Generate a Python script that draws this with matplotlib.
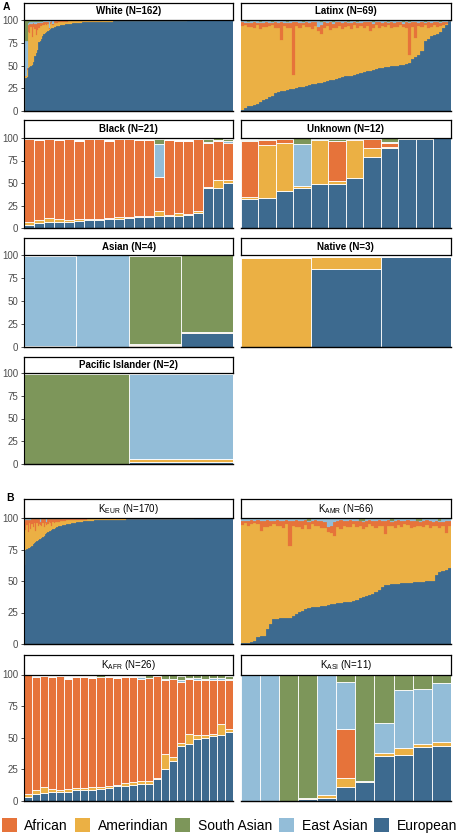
import numpy as np
import matplotlib.pyplot as plt
from matplotlib.patches import Patch

plt.rcParams['font.family'] = ['Liberation Sans', 'DejaVu Sans']

legend_order = ["African", "Amerindian", "South Asian", "East Asian", "European"]
stack_order = ["European", "Amerindian", "African", "East Asian", "South Asian"]
colors = {"African": "#E6733A", "Amerindian": "#EBB044", "South Asian": "#7D965A",
          "East Asian": "#93BDD8", "European": "#3D6A8F"}

# ---------------- panel A: self-reported groups ----------------
white_eur = [
    0, 36, 37, 47, 48, 50, 51, 54, 60, 64,
    67, 76, 77, 79, 82, 85, 86, 87, 88, 89,
    90, 91, 91.5, 92, 92.5, 93, 93.3, 93.6, 94, 94.3,
    94.6, 95, 95.2, 95.5, 95.7, 95.9, 96.1, 96.3, 96.5, 96.7,
    96.8, 96.9, 97, 97.1, 97.2, 97.3, 97.4, 97.5, 97.5, 97.6,
    97.6, 97.7, 97.7, 97.8, 97.8, 97.9, 97.9, 98, 98, 98,
    98.1, 98.1, 98.1, 98.2, 98.2, 98.2, 98.3, 98.3, 98.3, 98.4,
    98.4, 98.4, 98.4, 98.5, 98.5, 98.5, 98.5, 98.6, 98.6, 98.6,
    98.6, 98.7, 98.7, 98.7, 98.7, 98.8, 98.8, 98.8, 98.8, 98.9,
    98.9, 98.9, 98.9, 99, 99, 99, 99, 99, 99, 99.1,
    99.1, 99.1, 99.1, 99.1, 99.1, 99.2, 99.2, 99.2, 99.2, 99.2,
    99.2, 99.3, 99.3, 99.3, 99.3, 99.3, 99.3, 99.3, 99.4, 99.4,
    99.4, 99.4, 99.4, 99.4, 99.4, 99.4, 99.5, 99.5, 99.5, 99.5,
    99.5, 99.5, 99.5, 99.5, 99.5, 99.6, 99.6, 99.6, 99.6, 99.6,
    99.6, 99.6, 99.6, 99.7, 99.7, 99.7, 99.7, 99.7, 99.7, 99.7,
    99.8, 99.8, 99.8, 99.8, 99.8, 99.8, 99.8, 99.9, 99.9, 99.9,
    99.9, 99.9,
]
white_amr = [
    95, 2, 8, 40, 38, 42, 30, 38, 30, 20,
    22, 15, 16, 14, 12, 9, 10, 8, 8, 1,
    6, 6, 3, 5, 4.5, 4, 4.2, 4.0, 3.8, 3.6,
    3.4, 3.1, 3.0, 2.8, 2.7, 2.6, 2.4, 2.3, 2.2, 2.0,
    2.0, 1.9, 1.8, 1.8, 1.7, 1.6, 1.6, 1.5, 1.5, 1.4,
    1.4, 1.4, 1.4, 1.3, 1.3, 1.2, 1.2, 1.2, 1.2, 1.2,
    1.4, 1.4, 1.4, 1.3, 1.3, 1.3, 1.2, 1.2, 1.2, 1.1,
    1.1, 1.1, 1.1, 1.0, 1.0, 1.0, 1.0, 0.9, 0.9, 0.9,
    1.0, 0.9, 0.9, 0.9, 0.9, 0.8, 0.8, 0.8, 0.8, 0.7,
    0.7, 0.7, 0.7, 0.6, 0.6, 0.6, 0.6, 0.6, 0.6, 0.5,
    0.5, 0.5, 0.5, 0.5, 0.5, 0.4, 0.4, 0.4, 0.4, 0.4,
    0.4, 0.3, 0.3, 0.3, 0.3, 0.3, 0.3, 0.3, 0.2, 0.2,
    0.3, 0.3, 0.3, 0.3, 0.3, 0.3, 0.2, 0.2, 0.2, 0.2,
    0.2, 0.2, 0.2, 0.2, 0.2, 0.1, 0.1, 0.1, 0.1, 0.1,
    0.1, 0.1, 0.1, 0.1, 0.1, 0.1, 0.1, 0.1, 0.1, 0.1,
    0.1, 0.1, 0.1, 0.1, 0.1, 0.1, 0.1, 0.1, 0.1, 0.1,
    0.1, 0.1,
]
white_afr = [
    3, 1, 2, 8, 10, 4, 15, 5, 6, 12,
    8, 6, 4, 4, 3, 4, 2, 3, 2, 1,
    2, 2, 1, 2, 2, 2, 2.0, 1.9, 1.7, 1.6,
    1.5, 1.4, 1.3, 1.2, 1.1, 1.0, 1.0, 0.9, 0.8, 0.8,
    0.7, 0.7, 0.7, 0.6, 0.6, 0.6, 0.5, 0.5, 0.5, 0.5,
    0.5, 0.4, 0.4, 0.4, 0.4, 0.4, 0.4, 0.3, 0.3, 0.3,
    0.3, 0.3, 0.3, 0.3, 0.3, 0.3, 0.3, 0.3, 0.3, 0.3,
    0.3, 0.3, 0.3, 0.3, 0.3, 0.3, 0.3, 0.3, 0.3, 0.3,
    0.2, 0.2, 0.2, 0.2, 0.2, 0.2, 0.2, 0.2, 0.2, 0.2,
    0.2, 0.2, 0.2, 0.2, 0.2, 0.2, 0.2, 0.2, 0.2, 0.2,
    0.2, 0.2, 0.2, 0.2, 0.2, 0.2, 0.2, 0.2, 0.2, 0.2,
    0.2, 0.2, 0.2, 0.2, 0.2, 0.2, 0.2, 0.2, 0.2, 0.2,
    0.1, 0.1, 0.1, 0.1, 0.1, 0.1, 0.1, 0.1, 0.1, 0.1,
    0.1, 0.1, 0.1, 0.1, 0.1, 0.1, 0.1, 0.1, 0.1, 0.1,
    0.1, 0.1, 0.1, 0.1, 0.1, 0.1, 0.1, 0.1, 0.1, 0.1,
    0.1, 0.1, 0.1, 0.1, 0.1, 0.1, 0.1, 0.1, 0.1, 0.1,
    0.1, 0.1,
]
white_eas = [
    0, 38, 30, 2, 2, 2, 2, 1, 2, 2,
    1, 1, 1, 1, 1, 1, 1, 1, 1, 8,
    1, 0.5, 4, 0.5, 0.5, 0.5, 0.3, 0.3, 0.3, 0.3,
    0.3, 0.3, 0.3, 0.3, 0.3, 0.3, 0.3, 0.3, 0.3, 0.3,
    0.3, 0.3, 0.3, 0.3, 0.3, 0.3, 0.3, 0.3, 0.3, 0.3,
    0.3, 0.3, 0.3, 0.3, 0.3, 0.3, 0.3, 0.3, 0.3, 0.3,
    0.1, 0.1, 0.1, 0.1, 0.1, 0.1, 0.1, 0.1, 0.1, 0.1,
    0.1, 0.1, 0.1, 0.1, 0.1, 0.1, 0.1, 0.1, 0.1, 0.1,
    0.1, 0.1, 0.1, 0.1, 0.1, 0.1, 0.1, 0.1, 0.1, 0.1,
    0.1, 0.1, 0.1, 0.1, 0.1, 0.1, 0.1, 0.1, 0.1, 0.1,
    0.1, 0.1, 0.1, 0.1, 0.1, 0.1, 0.1, 0.1, 0.1, 0.1,
    0.1, 0.1, 0.1, 0.1, 0.1, 0.1, 0.1, 0.1, 0.1, 0.1,
    0.1, 0.1, 0.1, 0.1, 0.1, 0.1, 0.1, 0.1, 0.1, 0.1,
    0.1, 0.1, 0.1, 0.1, 0.1, 0.1, 0.1, 0.1, 0.1, 0.1,
    0.1, 0.1, 0.1, 0.1, 0.1, 0.1, 0.1, 0.1, 0.1, 0.1,
    0.1, 0.1, 0.1, 0.1, 0.1, 0.1, 0.1, 0.1, 0.1, 0.1,
    0.1, 0.1,
]
white_sas = [
    1, 22, 22, 2, 1, 1, 1, 1, 1, 1,
    1, 1, 1, 1, 1, 0.5, 0.5, 0.5, 0.5, 0.5,
    0.5, 0.3, 0.3, 0.3, 0.3, 0.3, 0.2, 0.2, 0.2, 0.2,
    0.2, 0.2, 0.2, 0.2, 0.2, 0.2, 0.2, 0.2, 0.2, 0.2,
    0.2, 0.2, 0.2, 0.2, 0.2, 0.2, 0.2, 0.2, 0.2, 0.2,
    0.2, 0.2, 0.2, 0.2, 0.2, 0.2, 0.2, 0.2, 0.2, 0.2,
    0.1, 0.1, 0.1, 0.1, 0.1, 0.1, 0.1, 0.1, 0.1, 0.1,
    0.1, 0.1, 0.1, 0.1, 0.1, 0.1, 0.1, 0.1, 0.1, 0.1,
    0.1, 0.1, 0.1, 0.1, 0.1, 0.1, 0.1, 0.1, 0.1, 0.1,
    0.1, 0.1, 0.1, 0.1, 0.1, 0.1, 0.1, 0.1, 0.1, 0.1,
    0.1, 0.1, 0.1, 0.1, 0.1, 0.1, 0.1, 0.1, 0.1, 0.1,
    0.1, 0.1, 0.1, 0.1, 0.1, 0.1, 0.1, 0.1, 0.1, 0.1,
    0.1, 0.1, 0.1, 0.1, 0.1, 0.1, 0.1, 0.1, 0.1, 0.1,
    0.1, 0.1, 0.1, 0.1, 0.1, 0.1, 0.1, 0.1, 0.1, 0.1,
    0.1, 0.1, 0.1, 0.1, 0.1, 0.1, 0.1, 0.1, 0.1, 0.1,
    0.1, 0.1, 0.1, 0.1, 0.1, 0.1, 0.1, 0.1, 0.1, 0.1,
    0.1, 0.1,
]

latinx_eur = [
    1, 3, 5, 6, 7, 8, 10, 12, 13, 15,
    17, 20, 21, 22, 22.5, 23, 24, 24.5, 25.5, 26,
    26.5, 27.5, 28.5, 29.5, 30, 30.5, 31, 32, 33, 34,
    34.5, 35, 36, 37, 38, 38.5, 39, 40, 41, 42,
    43, 43.5, 44, 45, 46, 47, 47.5, 48, 48.5, 49,
    49.5, 50, 50.5, 51, 51.5, 53, 57, 59, 62, 66,
    77, 79, 82, 84, 85, 87, 91, 94, 99,
]
latinx_amr = [
    92.5, 91, 87, 86.5, 84.5, 86, 80, 80.5, 79.5, 78,
    77, 71.5, 70.5, 55.5, 70.5, 68, 67.5, 15, 68, 65,
    67.5, 65, 64, 61, 63.5, 57, 54, 59.5, 60, 55.5,
    56.5, 56.5, 57.5, 53, 54.5, 54.5, 51.5, 54.5, 50.5, 51,
    48.5, 50, 43.5, 46, 48.5, 44.5, 45.5, 44.5, 45.5, 42.5,
    43, 42.5, 44, 41, 40, 8, 35.5, 21.5, 31, 26.5,
    17, 12.5, 10.5, 10.5, 7.5, 6, 3.5, 2, 0,
]
latinx_afr = [
    4, 3, 5, 4, 6, 3, 7, 4, 5, 4,
    3, 6, 5, 20, 4, 6, 5, 58, 4, 6,
    3, 5, 4, 7, 4, 5, 9, 6, 4, 8,
    5, 6, 4, 7, 5, 4, 6, 3, 5, 4,
    6, 4, 10, 5, 3, 6, 4, 5, 3, 6,
    4, 5, 3, 4, 6, 36, 5, 17, 4, 5,
    3, 6, 4, 3, 5, 4, 3, 2, 0.5,
]
latinx_eas = [
    1, 1.5, 1, 2, 1, 1.5, 1, 2, 1, 1.5,
    1, 1, 2, 1, 1.5, 1, 2, 1, 1, 1.5,
    1, 1, 2, 1, 1, 6, 4, 1, 1.5, 1,
    2, 1, 1, 1.5, 1, 1, 2, 1, 1, 1.5,
    1, 1, 1, 2, 1, 1, 1.5, 1, 1, 1,
    2, 1, 1, 1.5, 1, 1, 1, 1, 1.5, 1,
    1, 1, 2, 1, 1, 1, 1, 0.5, 0,
]
latinx_sas = [
    0.5, 0.5, 1, 0.5, 0.5, 0.5, 1, 0.5, 0.5, 0.5,
    1, 0.5, 0.5, 0.5, 0.5, 1, 0.5, 0.5, 0.5, 0.5,
    1, 0.5, 0.5, 0.5, 0.5, 0.5, 1, 0.5, 0.5, 0.5,
    1, 0.5, 0.5, 0.5, 0.5, 1, 0.5, 0.5, 1.5, 0.5,
    0.5, 0.5, 0.5, 1, 0.5, 0.5, 0.5, 0.5, 1, 0.5,
    0.5, 0.5, 0.5, 1.5, 0.5, 1, 0.5, 0.5, 0.5, 0.5,
    1, 0.5, 0.5, 0.5, 0.5, 1, 0.5, 0.5, 0.5,
]

black_eur = [3, 5.5, 6.3, 7, 7, 7.4, 9, 9, 10, 10, 11, 12, 12, 13, 13, 13.7, 14, 17, 44, 45, 50]
black_amr = [4, 3, 4.7, 2.5, 2, 2.6, 1.5, 1.5, 1.5, 2, 1.5, 1.5, 1.5, 6, 2, 2.8, 2, 1.5, 2, 8, 3]
black_afr = [92, 89, 88, 88.5, 90, 87, 88, 88, 85.5, 86.5, 86, 84.5, 84, 38, 83, 80.5, 81, 80, 49, 44, 42]
black_eas = [0, 0, 0, 0, 0, 0, 0, 0, 0, 0, 0, 0, 0, 36, 0, 0, 0, 0, 1, 0.5, 1.5]
black_sas = [0, 0, 0, 0, 0, 0, 0, 0, 0, 0, 0, 0, 0, 5.5, 0, 0, 0, 0, 3, 2, 2.5]

unknown_eur = [32.6, 33, 41, 44, 48.7, 49.4, 56, 78.6, 89, 99, 99, 99.5]
unknown_amr = [2, 59.5, 53, 2.5, 49, 2.6, 42, 10.5, 1, 0, 0, 0]
unknown_afr = [62, 5.5, 5, 0.5, 0.5, 44.5, 0.5, 10, 4, 0, 0, 0]
unknown_eas = [0.5, 0, 0, 46.5, 0, 0, 0, 0, 2, 0, 0, 0]
unknown_sas = [1, 0.5, 0.5, 6, 1, 2.5, 1, 0.5, 3.5, 0.5, 0.5, 0.3]

asian_eur = [1, 0.5, 1, 15]
asian_amr = [0, 0, 1, 0.5]
asian_afr = [0, 0, 1, 0.5]
asian_eas = [98, 99, 0.5, 0.5]
asian_sas = [0, 0, 95.5, 83]

native_eur = [0, 84.7, 98]
native_amr = [96.5, 13, 0]
native_afr = [0, 0, 0]
native_eas = [0, 0, 0]
native_sas = [0, 0, 0]

pacific_eur = [0, 2]
pacific_amr = [0, 3]
pacific_afr = [0, 0.5]
pacific_eas = [0, 93]
pacific_sas = [99, 0.5]

# ---------------- panel B: genetic ancestry clusters ----------------
keur_eur = [
    63, 74.5, 75.5, 76, 76.5, 77, 78, 79, 80, 81,
    82, 82.5, 83, 83.5, 84, 85, 86, 87, 88, 89,
    89.5, 90, 90.5, 91, 91.5, 92, 92.5, 93, 93.3, 93.6,
    94, 94.3, 94.5, 94.8, 95, 95.2, 95.4, 95.6, 95.8, 96,
    96.2, 96.4, 96.5, 96.6, 96.8, 97, 97.1, 97.2, 97.3, 97.4,
    97.5, 97.6, 97.7, 97.8, 97.9, 98, 98, 98.1, 98.1, 98.2,
    98.2, 98.3, 98.3, 98.3, 98.4, 98.4, 98.4, 98.5, 98.5, 98.5,
    98.5, 98.6, 98.6, 98.6, 98.6, 98.7, 98.7, 98.7, 98.7, 98.8,
    98.8, 98.8, 98.8, 98.9, 98.9, 98.9, 98.9, 99, 99, 99,
    99, 99, 99, 99.1, 99.1, 99.1, 99.1, 99.1, 99.1, 99.2,
    99.2, 99.2, 99.2, 99.2, 99.2, 99.3, 99.3, 99.3, 99.3, 99.3,
    99.3, 99.3, 99.4, 99.4, 99.4, 99.4, 99.4, 99.4, 99.4, 99.4,
    99.5, 99.5, 99.5, 99.5, 99.5, 99.5, 99.5, 99.5, 99.5, 99.6,
    99.6, 99.6, 99.6, 99.6, 99.6, 99.6, 99.6, 99.6, 99.7, 99.7,
    99.7, 99.7, 99.7, 99.7, 99.7, 99.7, 99.7, 99.7, 99.8, 99.8,
    99.8, 99.8, 99.8, 99.8, 99.8, 99.8, 99.8, 99.8, 99.9, 99.9,
    99.9, 99.9, 99.9, 99.9, 99.9, 99.9, 99.9, 99.9, 99.9, 99.9,
]
keur_amr = [
    29, 15.8, 19, 12.8, 19.3, 14.3, 17, 14, 16, 9,
    14, 11.5, 12, 11, 10, 11, 7, 9, 6.5, 6,
    7.5, 6, 3.5, 6, 4.5, 5, 4, 4, 3.8, 3.7,
    3.5, 3.6, 3.5, 3.2, 3.1, 3.0, 2.8, 2.7, 2.5, 2.4,
    2.3, 2.1, 2.0, 2.0, 1.8, 1.7, 1.6, 1.5, 1.5, 1.4,
    1.3, 1.4, 1.3, 1.2, 1.2, 1.1, 1.1, 1.0, 1.0, 1.0,
    1.0, 1.1, 1.1, 1.1, 1.0, 1.0, 1.0, 0.9, 0.9, 0.9,
    0.9, 0.9, 0.9, 0.9, 0.9, 0.8, 0.8, 0.8, 0.8, 0.7,
    0.7, 0.7, 0.7, 0.6, 0.6, 0.6, 0.6, 0.5, 0.5, 0.5,
    0.5, 0.6, 0.6, 0.5, 0.5, 0.5, 0.5, 0.5, 0.5, 0.4,
    0.4, 0.4, 0.4, 0.4, 0.4, 0.3, 0.3, 0.3, 0.3, 0.3,
    0.3, 0.3, 0.2, 0.2, 0.2, 0.2, 0.2, 0.2, 0.2, 0.2,
    0.2, 0.2, 0.2, 0.2, 0.2, 0.2, 0.2, 0.2, 0.2, 0.1,
    0.1, 0.1, 0.1, 0.1, 0.1, 0.1, 0.1, 0.1, 0.1, 0.1,
    0.1, 0.1, 0.1, 0.1, 0.1, 0.1, 0.1, 0.1, 0.1, 0.1,
    0.1, 0.1, 0.1, 0.1, 0.1, 0.1, 0.1, 0.1, 0.1, 0.1,
    0.1, 0.1, 0.1, 0.1, 0.1, 0.1, 0.1, 0.1, 0.1, 0.1,
]
keur_afr = [
    5, 8, 4, 10, 3, 7, 4, 6, 3, 9,
    3, 5, 4, 2, 5, 3, 6, 3, 2, 4,
    2, 3, 5, 2, 3, 2, 2.5, 2, 2, 1.8,
    1.6, 1.6, 1.5, 1.5, 1.4, 1.3, 1.3, 1.2, 1.2, 1.1,
    1.0, 1.0, 1.0, 0.9, 0.9, 0.8, 0.8, 0.8, 0.7, 0.7,
    0.7, 0.6, 0.6, 0.6, 0.5, 0.5, 0.5, 0.5, 0.5, 0.4,
    0.4, 0.4, 0.4, 0.4, 0.4, 0.4, 0.4, 0.4, 0.4, 0.4,
    0.3, 0.3, 0.3, 0.3, 0.3, 0.3, 0.3, 0.3, 0.3, 0.3,
    0.3, 0.3, 0.3, 0.3, 0.3, 0.3, 0.3, 0.3, 0.3, 0.3,
    0.2, 0.2, 0.2, 0.2, 0.2, 0.2, 0.2, 0.2, 0.2, 0.2,
    0.2, 0.2, 0.2, 0.2, 0.2, 0.2, 0.2, 0.2, 0.2, 0.2,
    0.2, 0.2, 0.2, 0.2, 0.2, 0.2, 0.2, 0.2, 0.2, 0.2,
    0.1, 0.1, 0.1, 0.1, 0.1, 0.1, 0.1, 0.1, 0.1, 0.1,
    0.1, 0.1, 0.1, 0.1, 0.1, 0.1, 0.1, 0.1, 0.1, 0.1,
    0.1, 0.1, 0.1, 0.1, 0.1, 0.1, 0.1, 0.1, 0.1, 0.1,
    0.1, 0.1, 0.1, 0.1, 0.1, 0.1, 0.1, 0.1, 0.1, 0.1,
    0.1, 0.1, 0.1, 0.1, 0.1, 0.1, 0.1, 0.1, 0.1, 0.1,
]
keur_eas = [
    2, 1, 0.8, 0.5, 0.5, 1, 0.5, 0.5, 0.5, 0.5,
    0.5, 0.5, 0.5, 3, 0.5, 0.5, 0.5, 0.5, 3, 0.5,
    0.5, 0.5, 0.5, 0.5, 0.5, 0.5, 0.5, 0.5, 0.4, 0.4,
    0.4, 0.3, 0.3, 0.3, 0.3, 0.3, 0.3, 0.3, 0.3, 0.3,
    0.3, 0.3, 0.3, 0.3, 0.3, 0.3, 0.3, 0.3, 0.3, 0.3,
    0.3, 0.2, 0.2, 0.2, 0.2, 0.2, 0.2, 0.2, 0.2, 0.2,
    0.2, 0.1, 0.1, 0.1, 0.1, 0.1, 0.1, 0.1, 0.1, 0.1,
    0.1, 0.1, 0.1, 0.1, 0.1, 0.1, 0.1, 0.1, 0.1, 0.1,
    0.1, 0.1, 0.1, 0.1, 0.1, 0.1, 0.1, 0.1, 0.1, 0.1,
    0.1, 0.1, 0.1, 0.1, 0.1, 0.1, 0.1, 0.1, 0.1, 0.1,
    0.1, 0.1, 0.1, 0.1, 0.1, 0.1, 0.1, 0.1, 0.1, 0.1,
    0.1, 0.1, 0.1, 0.1, 0.1, 0.1, 0.1, 0.1, 0.1, 0.1,
    0.1, 0.1, 0.1, 0.1, 0.1, 0.1, 0.1, 0.1, 0.1, 0.1,
    0.1, 0.1, 0.1, 0.1, 0.1, 0.1, 0.1, 0.1, 0.1, 0.1,
    0.1, 0.1, 0.1, 0.1, 0.1, 0.1, 0.1, 0.1, 0.1, 0.1,
    0.1, 0.1, 0.1, 0.1, 0.1, 0.1, 0.1, 0.1, 0.1, 0.1,
    0.1, 0.1, 0.1, 0.1, 0.1, 0.1, 0.1, 0.1, 0.1, 0.1,
]
keur_sas = [
    0.5, 0.5, 0.5, 0.5, 0.5, 0.5, 0.3, 0.3, 0.3, 0.3,
    0.3, 0.3, 0.3, 0.3, 0.3, 0.3, 0.3, 0.3, 0.3, 0.3,
    0.3, 0.3, 0.3, 0.3, 0.3, 0.3, 0.3, 0.3, 0.3, 0.3,
    0.3, 0.2, 0.2, 0.2, 0.2, 0.2, 0.2, 0.2, 0.2, 0.2,
    0.2, 0.2, 0.2, 0.2, 0.2, 0.2, 0.2, 0.2, 0.2, 0.2,
    0.2, 0.2, 0.2, 0.2, 0.2, 0.2, 0.2, 0.2, 0.2, 0.2,
    0.2, 0.1, 0.1, 0.1, 0.1, 0.1, 0.1, 0.1, 0.1, 0.1,
    0.1, 0.1, 0.1, 0.1, 0.1, 0.1, 0.1, 0.1, 0.1, 0.1,
    0.1, 0.1, 0.1, 0.1, 0.1, 0.1, 0.1, 0.1, 0.1, 0.1,
    0.1, 0.1, 0.1, 0.1, 0.1, 0.1, 0.1, 0.1, 0.1, 0.1,
    0.1, 0.1, 0.1, 0.1, 0.1, 0.1, 0.1, 0.1, 0.1, 0.1,
    0.1, 0.1, 0.1, 0.1, 0.1, 0.1, 0.1, 0.1, 0.1, 0.1,
    0.1, 0.1, 0.1, 0.1, 0.1, 0.1, 0.1, 0.1, 0.1, 0.1,
    0.1, 0.1, 0.1, 0.1, 0.1, 0.1, 0.1, 0.1, 0.1, 0.1,
    0.1, 0.1, 0.1, 0.1, 0.1, 0.1, 0.1, 0.1, 0.1, 0.1,
    0.1, 0.1, 0.1, 0.1, 0.1, 0.1, 0.1, 0.1, 0.1, 0.1,
    0.1, 0.1, 0.1, 0.1, 0.1, 0.1, 0.1, 0.1, 0.1, 0.1,
]

kamr_eur = [
    0.5, 0.5, 1, 1.5, 2, 5.5, 6, 6.5, 12, 15.5,
    20, 20.2, 20.4, 20.6, 20.8, 21, 22.5, 24, 25.5, 26.5,
    27.5, 28.5, 29, 29.3, 29.6, 30, 30.3, 30.6, 31.5, 32,
    32.3, 32.6, 33, 33.3, 33.6, 34, 35, 36.5, 37.5, 38,
    38.5, 40, 41.5, 43, 45, 46.5, 47, 47.3, 47.6, 48,
    48.2, 48.4, 48.6, 48.8, 49, 49.2, 49.4, 49.6, 49.8, 50,
    50.2, 55, 57, 58, 59, 60,
]
kamr_amr = [
    94, 95.5, 93, 94, 94, 90, 84, 86.5, 80.5, 78.5,
    75, 73.3, 73.6, 71.4, 74.7, 57, 71.5, 68.5, 67.5, 64.5,
    67, 62.5, 66, 64.2, 64.4, 62, 61.7, 58.4, 56.5, 54,
    60.7, 58.9, 61, 59.7, 58.9, 61, 58, 57, 53.5, 55,
    57, 54, 50.5, 50.5, 49, 40.5, 46.5, 46.7, 44.4, 46.5,
    44.8, 46.6, 45.9, 43.2, 44, 44.3, 44.6, 43.4, 44.7, 42,
    43.8, 39, 35, 36, 29, 34,
]
kamr_afr = [
    3, 2, 4, 3, 2, 3, 8, 5, 6, 4,
    3, 5, 4, 6, 3, 20, 4, 6, 5, 7,
    4, 6, 3, 5, 4, 6, 5, 4, 6, 11,
    5, 7, 4, 5, 6, 3, 5, 4, 6, 5,
    3, 4, 6, 5, 4, 11, 5, 3, 6, 4,
    5, 3, 4, 6, 5, 4, 3, 5, 4, 6,
    3, 4, 5, 3, 10, 4,
]
kamr_eas = [
    1.5, 1, 1, 0.5, 1, 0.5, 1, 1, 0.5, 1,
    1, 0.5, 1, 1, 0.5, 1, 1, 0.5, 1, 1,
    0.5, 1, 1, 0.5, 1, 1, 2, 6, 5, 2,
    1, 0.5, 1, 1, 0.5, 1, 1, 0.5, 1, 1,
    0.5, 1, 1, 0.5, 1, 1, 0.5, 1, 1, 0.5,
    1, 1, 0.5, 1, 1, 0.5, 1, 1, 0.5, 1,
    2, 1, 1, 2, 1, 1,
]
kamr_sas = [
    0.5, 0.5, 0.5, 0.5, 0.5, 0.5, 0.5, 0.5, 0.5, 0.5,
    0.5, 0.5, 0.5, 0.5, 0.5, 0.5, 0.5, 0.5, 0.5, 0.5,
    0.5, 1.5, 0.5, 0.5, 0.5, 0.5, 0.5, 0.5, 0.5, 0.5,
    0.5, 0.5, 0.5, 0.5, 0.5, 0.5, 0.5, 1.5, 1.5, 0.5,
    0.5, 0.5, 0.5, 0.5, 0.5, 0.5, 0.5, 1.5, 0.5, 0.5,
    0.5, 0.5, 0.5, 0.5, 0.5, 1.5, 1.5, 0.5, 0.5, 0.5,
    0.5, 0.5, 1.5, 0.5, 0.5, 0.5,
]

kafr_eur = [3.4, 5.8, 6.3, 6.8, 7, 7.4, 8.7, 9, 9, 9.2, 10, 11.6, 11.8, 12.6, 13.7, 13.7,
            17, 25.5, 32, 43.4, 45.3, 49.2, 50, 51, 51.8, 54.5]
kafr_amr = [2, 2.6, 4.7, 2.4, 2, 2.3, 1.3, 1.5, 2, 2.1, 1.6, 1.4, 2.2, 2.4, 2.1, 2.1,
            1.4, 11.5, 2.7, 2.6, 8, 2.8, 2, 1.6, 8.7, 2.5]
kafr_afr = [94, 89.6, 87.7, 88.8, 89.7, 87.1, 88, 87.5, 86, 87.1, 86.8, 84.4, 84.4, 83, 80.8, 81.6,
            80.3, 58.8, 62.1, 48.2, 43.2, 43.3, 43.3, 43, 35.3, 38.3]
kafr_eas = [0, 0.5, 0, 0, 0, 0, 0, 0, 0, 0, 0, 0, 0, 0, 1.2, 0,
            0, 1, 0, 1.5, 0.8, 1.8, 1.5, 1.5, 1.5, 1]
kafr_sas = [0, 0, 0, 0, 0, 0, 0, 0, 0, 1.5, 0, 0, 0, 0, 1.3, 2.6,
            0, 2.7, 2.7, 3, 2.4, 2.4, 2.5, 2.5, 2.5, 2.6]

kasi_eur = [0, 0, 0, 1.5, 2.7, 11.2, 15.2, 35.7, 36, 42.7, 43.2]
kasi_amr = [0, 0, 0, 0.3, 2.3, 7.2, 0.5, 2.2, 5.9, 2.3, 3.5]
kasi_afr = [0, 0, 0, 0.2, 0, 38.6, 0.2, 0, 0, 0, 0]
kasi_eas = [100, 100, 0, 0.5, 94.5, 36.9, 0.3, 24, 46.1, 43.5, 46.6]
kasi_sas = [0, 0, 100, 97.5, 0, 6.1, 83.8, 38.1, 12, 11.5, 6.7]


def group(eur, amr, afr, eas, sas):
    return {"European": eur, "Amerindian": amr, "African": afr,
            "East Asian": eas, "South Asian": sas}


panels = [
    ("White (N=162)", group(white_eur, white_amr, white_afr, white_eas, white_sas), "A1", "L", True),
    ("Latinx (N=69)", group(latinx_eur, latinx_amr, latinx_afr, latinx_eas, latinx_sas), "A1", "R", True),
    ("Black (N=21)", group(black_eur, black_amr, black_afr, black_eas, black_sas), "A2", "L", True),
    ("Unknown (N=12)", group(unknown_eur, unknown_amr, unknown_afr, unknown_eas, unknown_sas), "A2", "R", True),
    ("Asian (N=4)", group(asian_eur, asian_amr, asian_afr, asian_eas, asian_sas), "A3", "L", True),
    ("Native (N=3)", group(native_eur, native_amr, native_afr, native_eas, native_sas), "A3", "R", True),
    ("Pacific Islander (N=2)", group(pacific_eur, pacific_amr, pacific_afr, pacific_eas, pacific_sas), "A4", "L", True),
    (r"K$_{\mathregular{EUR}}$ (N=170)", group(keur_eur, keur_amr, keur_afr, keur_eas, keur_sas), "B1", "L", False),
    (r"K$_{\mathregular{AMR}}$ (N=66)", group(kamr_eur, kamr_amr, kamr_afr, kamr_eas, kamr_sas), "B1", "R", False),
    (r"K$_{\mathregular{AFR}}$ (N=26)", group(kafr_eur, kafr_amr, kafr_afr, kafr_eas, kafr_sas), "B2", "L", False),
    (r"K$_{\mathregular{ASI}}$ (N=11)", group(kasi_eur, kasi_amr, kasi_afr, kasi_eas, kasi_sas), "B2", "R", False),
]

# layout in pixels: (strip top, plot top, plot bottom) and column x-extent
W, H = 459, 836
rows = {"A1": (3, 20, 111), "A2": (120, 138, 228), "A3": (238, 255, 347),
        "A4": (357, 373, 464), "B1": (499, 518, 644), "B2": (655, 674.5, 801)}
cols = {"L": (24, 233.3), "R": (240.5, 451)}

fig = plt.figure(figsize=(W / 100, H / 100), dpi=100)


def px_rect(x0, x1, y0, y1):
    return [x0 / W, 1 - y1 / H, (x1 - x0) / W, (y1 - y0) / H]


for title, comps, row, col, bold in panels:
    st, pt, pb = rows[row]
    x0, x1 = cols[col]
    ax = fig.add_axes(px_rect(x0, x1, pt, pb))
    n = len(comps["European"])
    xs = np.arange(n)
    bottom = np.zeros(n)
    for name in stack_order:
        vals = np.asarray(comps[name], dtype=float)
        if n > 30:
            ax.bar(xs, vals, bottom=bottom, width=1, color=colors[name],
                   edgecolor=colors[name], linewidth=0.15)
        else:
            ax.bar(xs, vals, bottom=bottom, width=1, color=colors[name],
                   edgecolor='white', linewidth=0.6)
        bottom += vals
    ax.set_xlim(-0.5, n - 0.5)
    ax.set_ylim(0, 100)
    ax.set_xticks([])
    ax.spines['top'].set_visible(False)
    ax.spines['right'].set_visible(False)
    ax.spines['bottom'].set_linewidth(1.0)
    ax.spines['bottom'].set_color('black')
    if col == "L":
        ax.set_yticks([0, 25, 50, 75, 100])
        ax.tick_params(axis='y', length=2.5, width=0.6, color='#333333',
                       labelsize=7, labelcolor='#4D4D4D', pad=1.5)
        ax.spines['left'].set_linewidth(0.8)
        ax.spines['left'].set_color('black')
    else:
        ax.set_yticks([])
        ax.spines['left'].set_visible(False)

    sax = fig.add_axes(px_rect(x0, x1, st, pt))
    sax.set_xticks([])
    sax.set_yticks([])
    sax.set_facecolor('white')
    for s in sax.spines.values():
        s.set_linewidth(0.9)
        s.set_color('black')
    sax.text(0.5, 0.5, title, ha='center', va='center', fontsize=7,
             fontweight='bold' if bold else 'normal', transform=sax.transAxes)

fig.text(3 / W, 1 - 7 / H, "A", fontsize=7.5, fontweight='bold', ha='left', va='center')
fig.text(6 / W, 1 - 498.5 / H, "B", fontsize=7.5, fontweight='bold', ha='left', va='center')

handles = [Patch(facecolor=colors[k], edgecolor='none', label=k) for k in legend_order]
fig.legend(handles=handles, loc='center', bbox_to_anchor=(0.5, 1 - 825.5 / H), ncol=5,
           frameon=False, fontsize=10, handlelength=1.08, handleheight=1.08,
           handletextpad=0.55, columnspacing=0.5, borderaxespad=0, borderpad=0)

fig.savefig("out.png", dpi=100)
